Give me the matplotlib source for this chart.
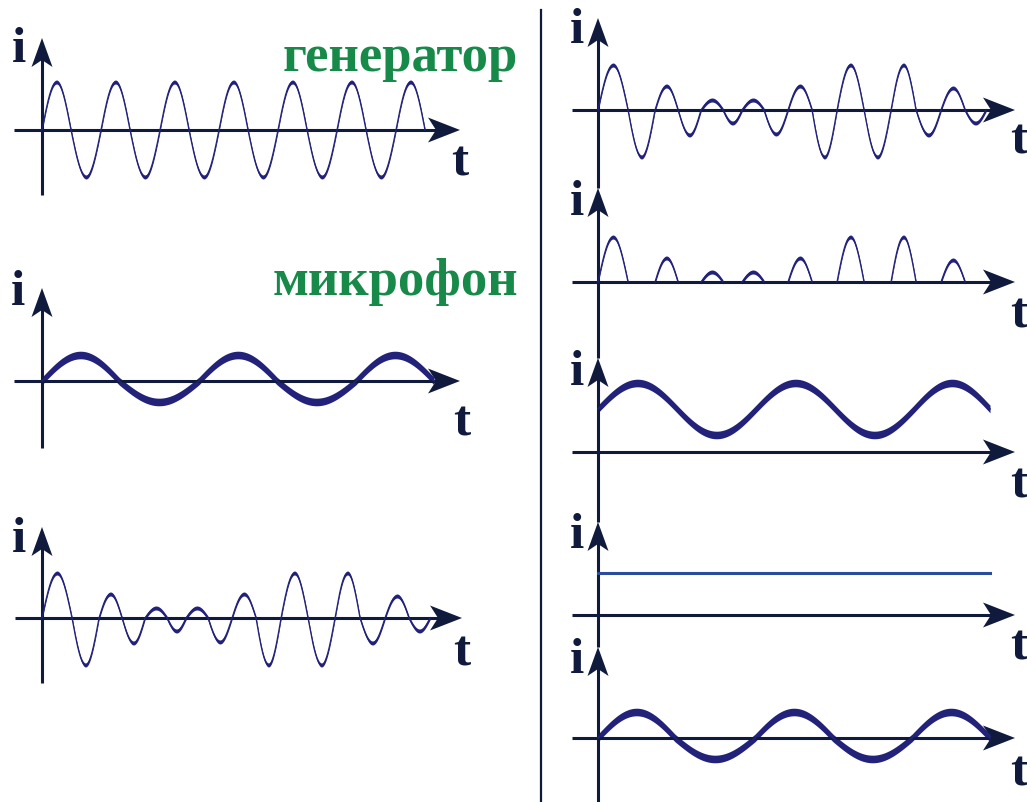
import numpy as np
import matplotlib.pyplot as plt
from matplotlib.patches import Polygon
from matplotlib.lines import Line2D

W, H = 1027, 802

# --- данные (единицы = пиксели от начала координат каждой панели) ---
# генератор: высокочастотный ток
gen_cross = [0, 29, 59, 88, 118, 147, 177, 206, 236, 265, 295, 324, 354, 383]
gen_amp = [48, -47, 48, -47, 48, -47, 48, -47, 48, -47, 48, -47, 48]

# микрофон: звуковая частота
mic_cross = [0, 77, 157, 235, 314, 392]
mic_amp = [26, -21, 26, -21, 26]

# модулированный ток
am_cross = [0, 30, 57, 80, 103, 125, 144, 166, 190, 214, 239, 266, 293, 318, 343, 367, 388]
am_amp = [45, -47, 24, -25, 10, -13, 10, -24, 24, -47, 45, -47, 45, -25, 22, -13]

# после детектора: постоянная составляющая + пульсации
ripple_offset = 43
ripple_cross = [0, 79, 158, 237, 316, 392]
ripple_amp = [26, -26, 26, -26, 26]

dc_level = 42
dc_end = 392

AX = "#0f1a3c"
WAVE = "#22227a"
GREEN = "#178a4a"
SERIF = "Liberation Serif"


def wave(cross, amp, n=40):
    xs, ys = [], []
    for c0, c1, a in zip(cross[:-1], cross[1:], amp):
        t = np.linspace(0, 1, n)
        xs.append(c0 + (c1 - c0) * t)
        ys.append(a * np.sin(np.pi * t))
    return np.concatenate(xs), np.concatenate(ys)


def panel(ox, oy):
    ax = fig.add_axes([0, 0, 1, 1])
    ax.set_xlim(-ox, W - ox)
    ax.set_ylim(oy - H, oy)
    ax.axis("off")
    ax.patch.set_alpha(0)
    return ax


def axes_arrows(ax, x_left, x_right, y_bot, y_top, i_y=67, t_y=-45, i_x=-22, t_x=420):
    ax.plot([x_left, x_right - 20], [0, 0], color=AX, lw=2.2, solid_capstyle="butt")
    ax.add_patch(Polygon([(x_right, 0), (x_right - 32, 12.5), (x_right - 24, 0),
                          (x_right - 32, -12.5)], closed=True, color=AX, lw=0))
    ax.plot([0, 0], [y_bot, y_top - 18], color=AX, lw=2.2, solid_capstyle="butt")
    ax.add_patch(Polygon([(0, y_top), (-10.5, y_top - 29), (0, y_top - 22),
                          (10.5, y_top - 29)], closed=True, color=AX, lw=0))
    ax.text(i_x, i_y, "i", fontsize=37, fontweight="bold", family=SERIF,
            ha="center", va="baseline", color=AX)
    ax.text(t_x, t_y, "t", fontsize=37, fontweight="bold", family=SERIF,
            ha="center", va="baseline", color=AX)


def thin(ax, x, y, base=0):
    ax.fill_between(x, base + y - 2.0, base + y + 2.0, color=WAVE, lw=0)
    ax.plot(x, base + y, color=WAVE, lw=0.9)


def thick(ax, x, y, base=0):
    ax.fill_between(x, base + y - 3.8, base + y + 3.8, color=WAVE, lw=0)
    ax.plot(x, base + y, color=WAVE, lw=1.1)


fig = plt.figure(figsize=(W / 100, H / 100), dpi=100)
fig.patch.set_facecolor("white")

# левая колонка
ax = panel(42, 130)
axes_arrows(ax, -28, 418, -65, 92, i_y=68, t_y=-45, i_x=-23, t_x=418)
x, y = wave(gen_cross, gen_amp)
thin(ax, x, y)
ax.text(476, 59, "генератор", fontsize=38, fontweight="bold", family=SERIF,
        color=GREEN, ha="right", va="baseline")

ax = panel(42, 381)
axes_arrows(ax, -28, 418, -67, 93, i_y=76, t_y=-54, i_x=-24, t_x=420)
x, y = wave(mic_cross, mic_amp)
thick(ax, x, y)
ax.text(476, 86, "микрофон", fontsize=38, fontweight="bold", family=SERIF,
        color=GREEN, ha="right", va="baseline")

ax = panel(42, 618)
axes_arrows(ax, -27, 420, -65, 91, i_y=66, t_y=-47, i_x=-23, t_x=420)
x, y = wave(am_cross, am_amp)
thin(ax, x, y)

# правая колонка
ax = panel(598, 110)
axes_arrows(ax, -26, 417, -78, 92, i_x=-21, t_x=421, t_y=-43)
x, y = wave(am_cross, am_amp)
thin(ax, x, y)

ax = panel(598, 282)
axes_arrows(ax, -26, 417, -76, 94, i_x=-21, t_x=421)
for c0, c1, a in zip(am_cross[:-1], am_cross[1:], am_amp):
    if a > 0:
        x, y = wave([c0, c1], [a])
        thin(ax, x, y)

ax = panel(598, 452)
axes_arrows(ax, -26, 417, -70, 94, i_x=-21, t_x=421)
x, y = wave(ripple_cross, ripple_amp)
thick(ax, x, y, base=ripple_offset)

ax = panel(598, 615)
axes_arrows(ax, -26, 417, -32, 93, i_x=-21, t_x=421)
ax.plot([0, dc_end], [dc_level, dc_level], color="#2a4b9e", lw=2.2)

ax = panel(598, 738)
axes_arrows(ax, -26, 417, -64, 91, i_y=65, t_y=-47, i_x=-21, t_x=421)
x, y = wave(mic_cross, mic_amp)
thick(ax, x, y)

# разделительная линия
fig.add_artist(Line2D([541 / W, 541 / W], [0, 1 - 10 / H], color=AX, lw=1.6))

fig.savefig("out.png", dpi=100, facecolor="white")
